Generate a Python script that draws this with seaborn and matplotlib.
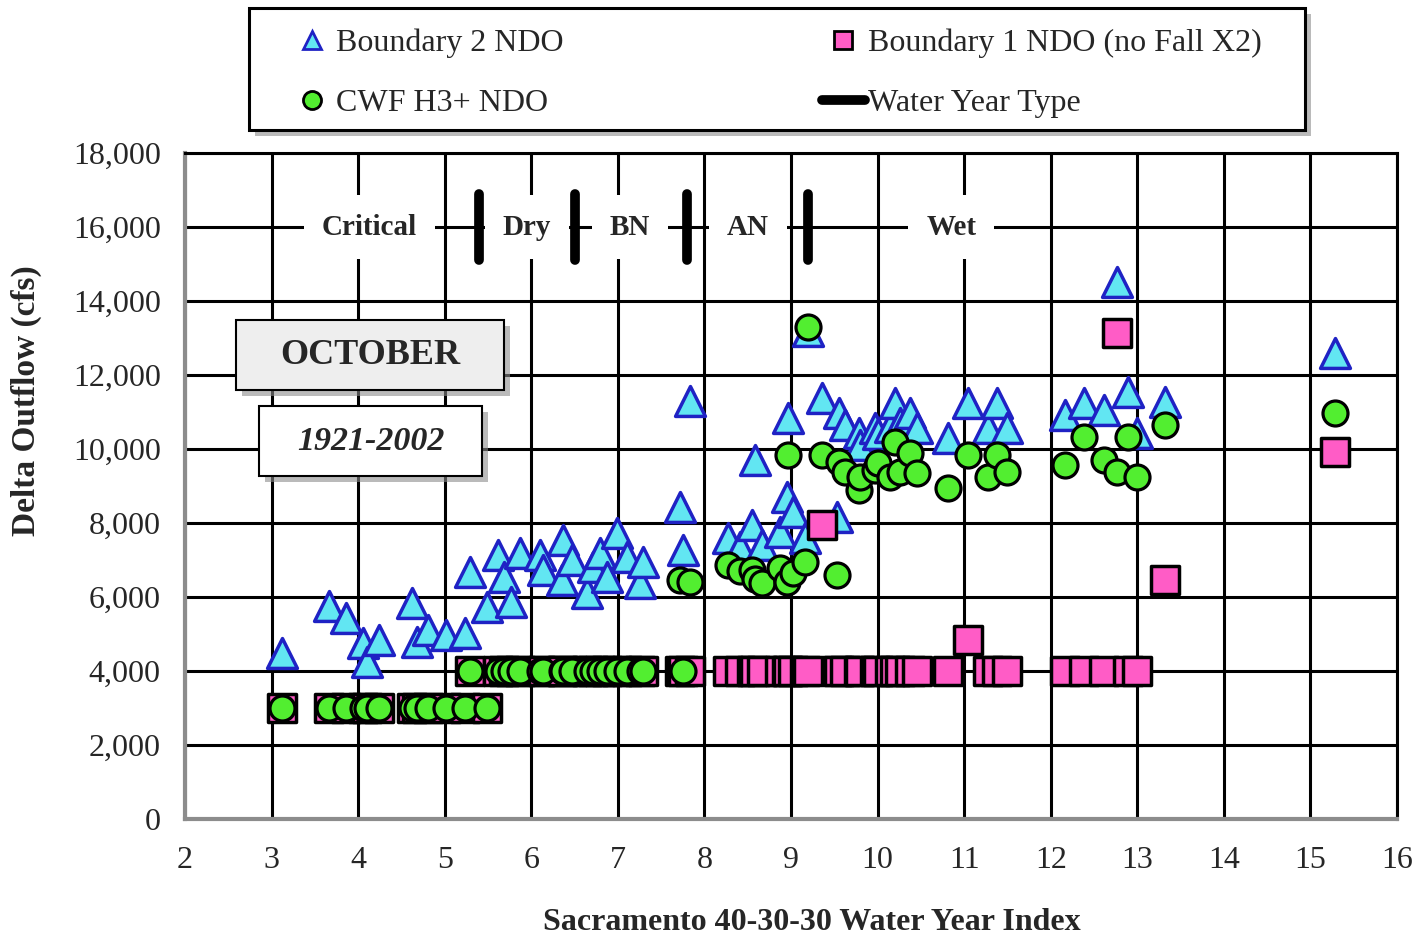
"""October Delta outflow vs Sacramento 40-30-30 index, three NDO scenarios."""

import matplotlib
matplotlib.use("Agg")
import matplotlib.pyplot as plt
import matplotlib.patheffects as pe
from matplotlib.lines import Line2D
from matplotlib.patches import Rectangle
from matplotlib.ticker import MultipleLocator, FuncFormatter
import pandas as pd
import seaborn as sns

# --- data (one entry per water year) ---
wy_index = [3.12, 3.66, 3.86, 4.06, 4.10, 4.24, 4.62, 4.68, 4.81, 5.02, 5.23, 5.49,
            5.29, 5.62, 5.68, 5.77, 5.87, 6.10, 6.14, 6.35, 6.37, 6.47, 6.64, 6.71,
            6.79, 6.87, 6.99, 7.10, 7.26, 7.29,
            7.72, 7.75, 7.83,
            8.27, 8.41, 8.55, 8.58, 8.66, 8.87, 8.95, 8.97, 9.02, 9.16,
            9.20, 9.36, 9.53, 9.55, 9.62, 9.78, 9.80, 9.97, 10.00, 10.14, 10.20,
            10.26, 10.37, 10.45,
            10.81, 11.04, 11.28, 11.38, 11.49,
            12.17, 12.38, 12.61, 12.77, 12.89, 13.00, 13.32, 15.28]
b2_ndo = [4500, 5750, 5430, 4750, 4250, 4850, 5830, 4790, 5100, 4970, 5020, 5730,
          6680, 7130, 6540, 5870, 7190, 7140, 6730, 6460, 7540, 7000, 6100, 6810,
          7190, 6540, 7730, 7080, 6380, 6950,
          8430, 7270, 11300,
          7590, 7350, 7950, 9700, 7400, 7760, 8700, 10840, 8300, 7590,
          13200, 11380, 8160, 10970, 10650, 10430, 10100, 10570, 10400, 10600, 11240,
          10700, 10970, 10570,
          10300, 11240, 10570, 11240, 10570,
          10920, 11240, 11050, 14510, 11540, 10430, 11270, 12590]
b1_ndo = [3000] * 12 + [4000] * 18 + [4000] * 3 + [4000] * 10 + \
         [4000, 7950, 4000, 4000, 4000, 4000, 4000, 4000, 4000, 4000, 4000,
          4000, 4000, 4000] + \
         [4000, 4840, 4000, 4000, 4000] + \
         [4000, 4000, 4000, 13140, 4000, 4000, 6460, 9920]
cwf_ndo = [3000] * 12 + [4000] * 18 + \
          [6460, 4000, 6410,
           6860, 6700, 6730, 6500, 6380, 6780, 6410, 9840, 6650, 6950,
           13300, 9840, 6590, 9650, 9380, 8890, 9240, 9430, 9620, 9240, 10190,
           9380, 9890, 9350,
           8950, 9840, 9240, 9840, 9380,
           9570, 10320, 9700, 9380, 10320, 9240, 10650, 10970]

wyt_breaks = [5.4, 6.5, 7.8, 9.2]
wyt_names = ["Critical", "Dry", "BN", "AN", "Wet"]
wyt_label_x = [4.13, 5.95, 7.14, 8.50, 10.85]

TRI_FILL, TRI_EDGE = "#62e6f2", "#1f22c4"
SQ_FILL = "#ff5cc6"
CIRC_FILL = "#52ee30"

sns.set_theme(style="white")
plt.rcParams["font.family"] = ["Liberation Serif", "DejaVu Serif"]

df = pd.DataFrame({"wy_index": wy_index, "b2": b2_ndo, "b1": b1_ndo, "cwf": cwf_ndo})

fig = plt.figure(figsize=(14.18, 9.36), dpi=100)
ax = fig.add_axes([0.1305, 0.125, 0.8547, 0.7115])

sns.scatterplot(data=df, x="wy_index", y="b2", marker="^", s=21.5 ** 2, color=TRI_FILL,
                edgecolor=TRI_EDGE, linewidth=2.5, zorder=3, ax=ax, legend=False)
sns.scatterplot(data=df, x="wy_index", y="b1", marker="s", s=19.5 ** 2, color=SQ_FILL,
                edgecolor="black", linewidth=2.5, zorder=4, ax=ax, legend=False)
sns.scatterplot(data=df, x="wy_index", y="cwf", marker="o", s=18 ** 2, color=CIRC_FILL,
                edgecolor="black", linewidth=2.3, zorder=5, ax=ax, legend=False)

# water year type separators and labels along the 16,000 line
ax.vlines(wyt_breaks, 15100, 16900, colors="black", lw=7, capstyle="round", zorder=4)
for x, name in zip(wyt_label_x, wyt_names):
    ax.text(x, 16000, name, ha="center", va="center", fontsize=21, fontweight="bold",
            bbox=dict(fc="white", ec="none", pad=13), zorder=3)

shadow = [pe.SimplePatchShadow(offset=(4, -4), shadow_rgbFace="0.55", alpha=0.6), pe.Normal()]
ax.add_patch(Rectangle((2.589, 11595), 3.096, 1891, fc="#eeeeee", ec="black", lw=1.5,
                       zorder=6, path_effects=shadow))
ax.text(4.137, 12540, "OCTOBER", ha="center", va="center", fontsize=26,
        fontweight="bold", zorder=7)
ax.add_patch(Rectangle((2.855, 9270), 2.576, 1892, fc="white", ec="black", lw=1.5,
                       zorder=6, path_effects=shadow))
ax.text(4.143, 10216, "1921-2002", ha="center", va="center", fontsize=24.5,
        fontweight="bold", fontstyle="italic", zorder=7)

ax.set_xlim(2, 16)
ax.set_ylim(0, 18000)
ax.xaxis.set_major_locator(MultipleLocator(1))
ax.xaxis.set_minor_locator(MultipleLocator(0.5))
ax.yaxis.set_major_locator(MultipleLocator(2000))
ax.yaxis.set_minor_locator(MultipleLocator(500))
ax.yaxis.set_major_formatter(FuncFormatter(lambda v, p: f"{v:,.0f}"))
ax.grid(which="major", color="black", lw=2.2)
ax.set_axisbelow(True)
ax.tick_params(which="both", direction="inout", color="0.55", width=2)
ax.tick_params(which="major", length=11, labelsize=23)
ax.tick_params(which="minor", length=8)
ax.tick_params(axis="x", pad=14)
ax.tick_params(axis="y", pad=12)
for side in ("left", "bottom"):
    ax.spines[side].set_color("0.55")
    ax.spines[side].set_linewidth(3)
for side in ("top", "right"):
    ax.spines[side].set_color("black")
    ax.spines[side].set_linewidth(2.2)

ax.set_xlabel("Sacramento 40-30-30 Water Year Index", fontsize=23, fontweight="bold")
ax.xaxis.set_label_coords(0.517, -0.134)
ax.set_ylabel("Delta Outflow (cfs)", fontsize=24, fontweight="bold")
ax.yaxis.set_label_coords(-0.118, 0.628)

# legend: frame drawn separately so the side padding can differ from the top/bottom
fig.patches.append(Rectangle((0.1756, 0.8611), 0.7447, 0.1303, transform=fig.transFigure,
                             fc="white", ec="black", lw=2.2, path_effects=shadow))
handles = [
    Line2D([], [], ls="none", marker="^", ms=13, mfc=TRI_FILL, mec=TRI_EDGE, mew=2),
    Line2D([], [], ls="none", marker="o", ms=13, mfc=CIRC_FILL, mec="black", mew=2),
    Line2D([], [], ls="none", marker="s", ms=13, mfc=SQ_FILL, mec="black", mew=2),
    Line2D([], [], color="black", lw=7, solid_capstyle="round"),
]
labels = ["Boundary 2 NDO", "CWF H3+ NDO", "Boundary 1 NDO (no Fall X2)", "Water Year Type"]
fig.legend(handles, labels, loc="center", ncol=2, mode="expand", frameon=False,
           bbox_to_anchor=(290 / 1418, 0.8565, (1262 - 290) / 1418, 0.1303),
           borderpad=0, borderaxespad=0, fontsize=23, handlelength=1.35,
           handletextpad=0.1, labelspacing=0.95)

fig.savefig("out.png", dpi=100)
